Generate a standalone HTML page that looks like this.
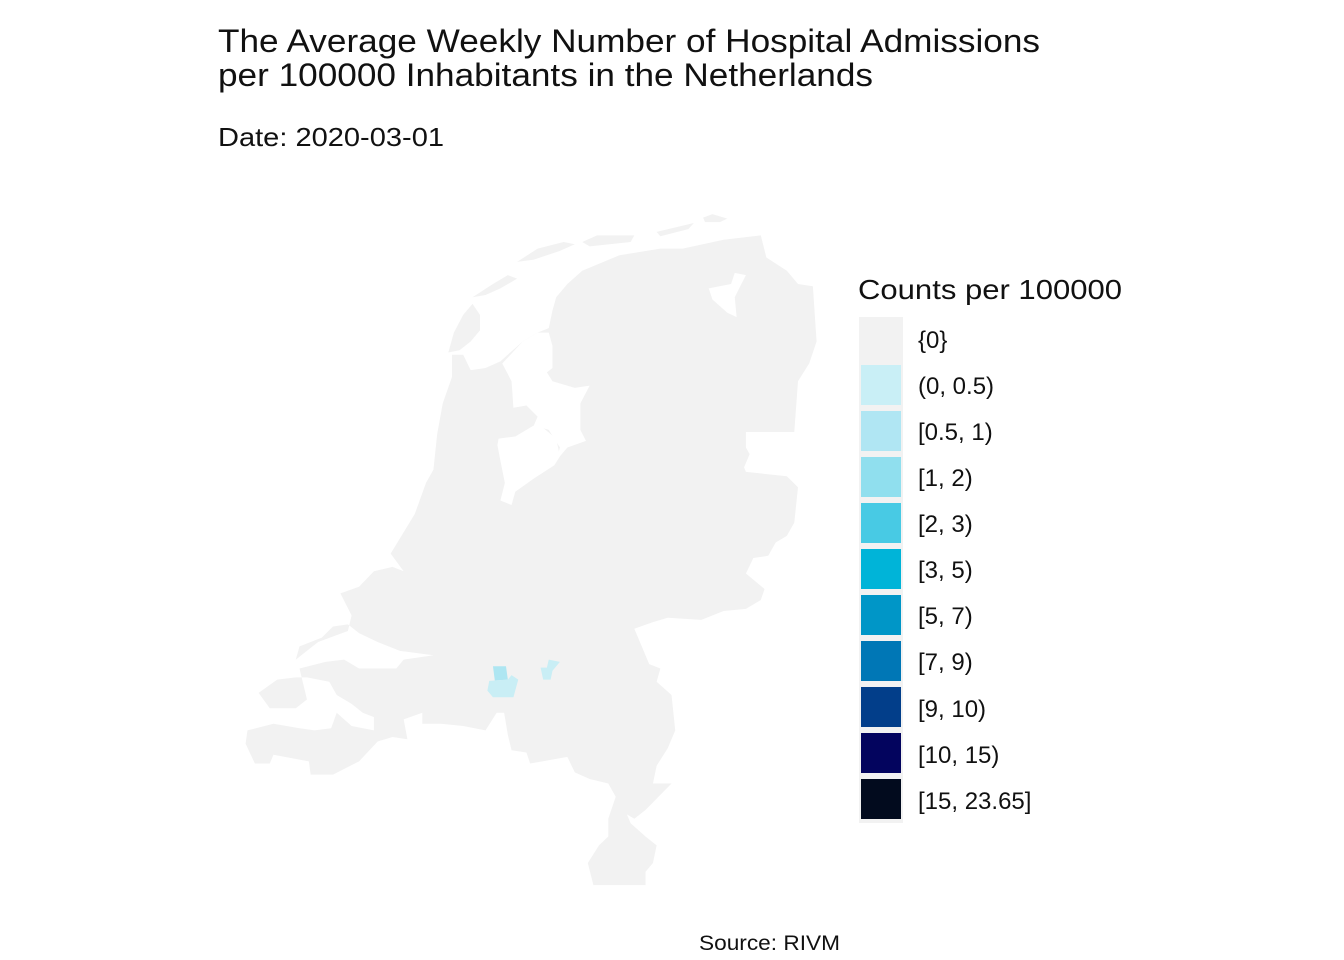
<!DOCTYPE html>
<html><head><meta charset="utf-8"><style>
html,body{margin:0;padding:0;background:#fff;}
svg{display:block;font-family:"Liberation Sans",sans-serif;}
</style></head><body>
<svg width="1344" height="960" viewBox="0 0 1344 960" xmlns="http://www.w3.org/2000/svg">
<rect width="1344" height="960" fill="#fff"/>
<text x="218" y="52" font-size="32" fill="#111" textLength="822" lengthAdjust="spacingAndGlyphs">The Average Weekly Number of Hospital Admissions</text>
<text x="218" y="86" font-size="32" fill="#111" textLength="655" lengthAdjust="spacingAndGlyphs">per 100000 Inhabitants in the Netherlands</text>
<text x="218" y="146" font-size="26" fill="#111" textLength="226" lengthAdjust="spacingAndGlyphs">Date: 2020-03-01</text>
<text x="699" y="950" font-size="21" fill="#111" textLength="141" lengthAdjust="spacingAndGlyphs">Source: RIVM</text>

<g transform="translate(240,200) scale(0.372,0.442)" fill="#f2f2f2">
<polygon points="570,350 600,350 620,385 660,380 700,365 760,320 800,300 830,290 840,250 850,220 880,190 920,160 1020,125 1130,110 1190,110 1300,90 1400,80 1415,130 1470,160 1500,190 1540,195 1550,320 1530,370 1500,410 1490,525 1360,525 1360,560 1370,575 1355,605 1360,615 1470,625 1500,650 1490,730 1470,760 1440,775 1420,805 1380,810 1360,845 1410,880 1400,905 1360,925 1300,930 1240,950 1150,945 1110,955 1060,970 1080,1010 1100,1050 1130,1060 1120,1090 1160,1120 1170,1200 1150,1240 1120,1280 1110,1320 1160,1320 1090,1380 1060,1400 1040,1390 1050,1410 1090,1440 1120,1460 1110,1500 1090,1520 1090,1550 950,1550 935,1500 965,1460 990,1440 990,1400 1010,1350 990,1320 940,1310 900,1295 880,1260 780,1275 770,1250 730,1245 720,1210 710,1160 690,1160 660,1200 600,1190 540,1185 490,1185 490,1160 440,1175 450,1220 410,1215 370,1225 320,1270 250,1300 190,1300 185,1270 90,1255 80,1275 40,1275 15,1230 20,1200 90,1185 160,1195 200,1200 245,1195 260,1160 300,1190 360,1200 360,1170 330,1160 300,1140 260,1120 240,1090 180,1080 150,1080 100,1085 50,1115 80,1150 150,1150 180,1130 160,1060 230,1045 280,1040 320,1060 420,1060 440,1040 520,1030 430,1020 370,1000 320,980 290,960 250,965 220,990 160,1010 150,1040 210,1000 290,975 300,940 270,890 320,875 360,840 410,830 440,840 405,800 470,710 500,640 520,610 530,530 545,460 570,400"/>
<polygon fill="#fff" points="705,370 730,410 735,470 770,465 800,490 790,510 830,520 860,560 850,590 880,560 930,545 915,520 915,460 940,420 900,425 840,410 825,390 840,380 840,330 830,300 800,300 760,320"/>
<polygon fill="#fff" points="695,540 740,535 780,515 800,505 850,540 860,580 845,600 790,630 740,660 730,690 700,680 712,640 700,590 692,555"/>
<polygon fill="#fff" points="1260,200 1320,190 1330,165 1360,170 1330,220 1335,265 1310,255 1270,225"/>
<polygon points="560,345 575,300 600,260 625,235 645,260 645,295 620,320 590,340"/>
<polygon points="625,220 680,190 720,170 745,178 700,200 660,215"/>
<polygon points="745,140 800,110 870,95 900,100 860,115 790,135"/>
<polygon points="920,95 960,80 1060,80 1050,95 940,105"/>
<polygon points="1120,72 1220,52 1205,66 1130,82"/>
<polygon points="1245,40 1270,32 1310,42 1290,50 1250,50"/>
<polygon fill="#aee6f2" points="680,1055 715,1055 720,1085 685,1087"/>
<polygon fill="#c9eef5" points="670,1088 720,1085 730,1075 748,1085 735,1125 680,1125 665,1110"/>
<polygon fill="#c9eef5" points="830,1040 860,1045 840,1065 835,1085 815,1085 808,1058 825,1058"/>
</g>

<text x="858" y="299" font-size="28" fill="#111" textLength="264" lengthAdjust="spacingAndGlyphs">Counts per 100000</text>
<g>
<rect x="859" y="317" width="44" height="506" fill="#f2f2f2"/>
<rect x="861" y="365" width="40" height="40" fill="#c9eff6"/>
<rect x="861" y="411" width="40" height="40" fill="#b0e6f3"/>
<rect x="861" y="457" width="40" height="40" fill="#90dfee"/>
<rect x="861" y="503" width="40" height="40" fill="#48cae4"/>
<rect x="861" y="549" width="40" height="40" fill="#00b4d8"/>
<rect x="861" y="595" width="40" height="40" fill="#0096c7"/>
<rect x="861" y="641" width="40" height="40" fill="#0077b6"/>
<rect x="861" y="687" width="40" height="40" fill="#023e8a"/>
<rect x="861" y="733" width="40" height="40" fill="#03045e"/>
<rect x="861" y="779" width="40" height="40" fill="#020b1e"/>
</g>
<g font-size="24" fill="#111">
<text x="918" y="348">{0}</text>
<text x="918" y="394">(0, 0.5)</text>
<text x="918" y="440">[0.5, 1)</text>
<text x="918" y="486">[1, 2)</text>
<text x="918" y="532">[2, 3)</text>
<text x="918" y="578">[3, 5)</text>
<text x="918" y="624">[5, 7)</text>
<text x="918" y="670">[7, 9)</text>
<text x="918" y="717">[9, 10)</text>
<text x="918" y="763">[10, 15)</text>
<text x="918" y="809">[15, 23.65]</text>
</g>
</svg>
</body></html>
